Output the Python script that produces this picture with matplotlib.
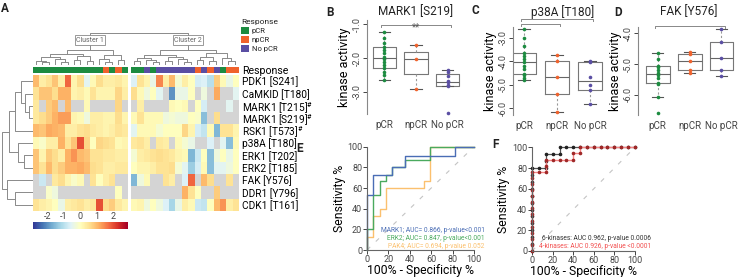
import matplotlib
matplotlib.use("Agg")
import matplotlib.pyplot as plt
import numpy as np
from matplotlib.colors import ListedColormap, Normalize
from matplotlib.cm import ScalarMappable
from matplotlib.patches import Patch

nan = np.nan

# ---------------- panel A data ----------------
kinases = ["PDK1 [S241]", "CaMKID [T180]", r"MARK1 [T215]$^{\#}$", r"MARK1 [S219]$^{\#}$",
           r"RSK1 [T573]$^{\#}$", "p38A [T180]", "ERK1 [T202]", "ERK2 [T185]",
           "FAK [Y576]", "DDR1 [Y796]", "CDK1 [T161]"]
response_names = ["pCR", "npCR", "No pCR"]
response_colors = ["#1c8b40", "#f0622c", "#5a4ea3"]

# response class per sample (0 pCR, 1 npCR, 2 No pCR)
resp_c1 = [0, 0, 0, 0, 0, 0, 0, 0, 0, 0, 0, 1, 0, 1, 0]
resp_c2 = [0, 0, 2, 0, 2, 2, 2, 2, 2, 2, 1, 2, 1, 2, 0, 1, 1]

heat_c1 = [
    [1.0, 0.3, 0.5, 0.9, 0.3, 1.8, 0.2, 0.6, -0.5, 0.1, 0.6, 0.3, 0.3, 0.4, 0.2],
    [0.5, 0.9, 0.9, 0.6, 1.1, 1.1, 0.2, 0.3, 0.1, 0.5, 0.2, 0.2, 0.2, 0.7, 0.3],
    [0.4, nan, 0.8, 1.0, nan, 1.0, nan, nan, 0.1, nan, nan, nan, nan, 0.7, nan],
    [0.4, 0.6, 0.8, 1.1, 1.3, 1.3, 0.2, 0.1, -0.3, 0.3, 0.3, 0.2, 0.2, 0.6, 0.2],
    [1.0, 0.9, 1.2, 1.1, 1.0, 0.3, 0.3, 0.5, 0.6, 0.4, 0.3, 0.2, 0.3, 0.5, 0.4],
    [0.1, -0.1, 0.3, 0.3, 1.1, 0.5, 0.9, 2.0, 0.7, 0.0, 0.7, 0.6, 0.5, 0.1, 0.2],
    [0.9, 0.2, 0.8, 0.6, 0.3, 1.1, 1.4, 1.0, 0.9, 0.5, 0.5, 0.4, 0.4, 0.3, 0.3],
    [0.9, 0.5, 1.0, 0.6, 0.8, 1.1, 1.1, 1.2, 1.0, 0.6, 0.5, 0.3, 0.3, 0.4, 0.4],
    [nan, -0.8, nan, 0.4, 0.6, 0.2, -0.1, 0.1, nan, 0.5, 0.0, 0.3, 0.5, nan, nan],
    [nan, nan, -0.1, -0.3, nan, nan, nan, nan, nan, nan, nan, nan, nan, 0.0, nan],
    [0.5, 0.3, 0.2, 0.0, -0.4, 0.3, 0.4, 0.5, 0.3, 0.4, 2.0, 0.6, 0.8, 0.4, 0.2],
]
heat_c2 = [
    [-0.6, 0.5, 0.2, -0.4, 1.5, 0.3, 1.0, -0.2, 0.3, 0.0, -0.7, -0.6, -1.0, 0.8, 0.1, -0.4, 0.0],
    [0.6, 0.1, -0.3, 0.0, -0.5, nan, -2.0, -0.4, -0.4, 0.0, nan, -0.3, nan, 1.2, nan, nan, -0.5],
    [nan, 0.3, nan, nan, nan, nan, 0.1, 0.0, 0.1, nan, 0.0, -0.7, nan, nan, nan, -0.5, nan],
    [0.1, 0.5, 0.1, 0.1, 0.1, -0.3, -0.2, -0.3, -0.3, 0.0, -0.1, -1.5, nan, 0.6, nan, nan, nan],
    [-0.5, 0.1, 0.1, 0.1, -0.2, 0.0, 0.0, 0.0, 0.7, 0.2, -0.7, -0.9, 0.1, -1.6, 0.5, 0.5, 0.2],
    [0.4, 0.5, 0.3, nan, 0.4, 0.3, nan, 0.1, -0.2, -0.4, nan, nan, -0.6, nan, -0.5, -1.5, 0.1],
    [-0.2, 0.3, 0.4, 0.5, 0.6, 0.5, 0.4, 0.2, 0.1, -1.6, -0.8, 0.0, -1.5, -0.3, 0.0, -0.4, 0.0],
    [0.0, 0.2, 0.2, 0.3, 0.5, 0.5, 0.6, -0.2, -0.5, -1.3, -0.7, 0.1, -1.5, -0.5, -0.5, -0.3, 0.0],
    [-1.6, -0.3, 0.1, nan, nan, 0.5, 0.3, nan, -0.6, 1.8, nan, 1.0, 0.6, nan, nan, 0.5, nan],
    [nan, nan, nan, nan, nan, nan, nan, nan, 1.1, 0.5, 0.0, nan, nan, 0.8, nan, nan, nan],
    [0.1, 0.2, -0.3, 0.0, -0.3, -0.6, -1.2, -0.4, 0.3, 0.1, -0.8, -0.9, 0.0, 1.0, 1.4, 0.3, 0.5],
]

# dendrograms: (height, left, right), leaves are sample / row indices
cluster1_tree = (15, (11, (8, (4, 0, (3, 1, 2)), (6, 3, (3, 4, 5))), (9, (5, 6, 7), (4, 8, 9))),
                 (10, (6, 10, (3, 11, 12)), (5, 13, 14)))
cluster2_tree = (15, (10, (7, (4, 15, 16), (5, 17, (3, 18, 19))), (8, (4, 20, 21), (6, 22, (3, 23, 24)))),
                 (12, (8, (5, 25, 26), (4, 27, 28)), (7, 29, (4, 30, 31))))
col_root_height = 32
row_tree = (31, (24, (18, (12, 0, (8, 1, (4, 2, 3))), 4), (15, 5, (9, 6, 7))),
            (26, 8, (18, 9, 10)))

# ---------------- panels B-D data ----------------
groups = ["pCR", "npCR", "No pCR"]
mark1_pcr = [-1.23, -1.42, -1.57, -1.67, -1.76, -1.86, -1.96, -2.04, -2.11, -2.21, -2.30, -2.40, -2.50, -2.65]
mark1_npcr = [-1.62, -2.03, -2.91]
mark1_nopcr = [-2.35, -2.42, -2.52, -2.68, -2.72, -2.80, -2.83, -3.62]
p38_pcr = [-2.63, -3.0, -3.35, -3.64, -3.78, -3.9, -4.01, -4.2, -4.35, -4.53, -4.6, -4.72, -4.82]
p38_npcr = [-3.72, -3.97, -4.67, -5.38, -6.18]
p38_nopcr = [-3.97, -4.02, -4.67, -5.0, -5.22, -5.81]
fak_pcr = [-4.65, -4.85, -5.05, -5.1, -5.2, -5.3, -5.35, -5.45, -5.6, -5.64, -6.08, -6.57]
fak_npcr = [-4.62, -4.66, -4.9, -5.19, -5.28]
fak_nopcr = [-3.88, -4.28, -4.82, -5.19, -5.39]

# ---------------- panels E, F data ----------------
mark1_fpr = [0, 0, 5.9, 5.9, 23.5, 23.5, 35.3, 35.3, 82.4, 82.4, 100]
mark1_tpr = [0, 53, 53, 73, 73, 80, 80, 91, 91, 100, 100]
erk2_fpr = [0, 0, 5.9, 5.9, 11.8, 11.8, 17.6, 17.6, 23.5, 23.5, 35.3, 35.3, 58.8, 58.8, 100]
erk2_tpr = [0, 20, 20, 53, 53, 67, 67, 73, 73, 80, 80, 87, 87, 100, 100]
pak4_fpr = [0, 0, 5.9, 5.9, 11.8, 11.8, 17.6, 17.6, 52.9, 52.9, 58.8, 58.8, 100]
pak4_tpr = [0, 13, 13, 33, 33, 40, 40, 60, 60, 67, 67, 100, 100]

six_fpr = [0, 0, 0, 0, 0, 0, 0, 0, 0, 0, 0, 0, 0, 6.7, 13.3, 13.3, 13.3, 20, 26.7, 26.7,
           33.3, 40, 46.7, 53.3, 60, 66.7, 73.3, 80, 86.7, 93.3, 100]
six_tpr = [0, 6.7, 13.3, 20, 26.7, 33.3, 40, 46.7, 53.3, 60, 66.7, 73.3, 80, 80, 80, 86.7, 93.3, 93.3, 93.3, 100,
           100, 100, 100, 100, 100, 100, 100, 100, 100, 100, 100]
four_fpr = [0, 0, 0, 0, 0, 0, 0, 0, 0, 0, 0, 0, 0, 0, 6.7, 13.3, 13.3, 13.3, 20, 26.7, 33.3, 40, 40,
            46.7, 46.7, 53.3, 60, 66.7, 73.3, 80, 86.7, 93.3, 100]
four_tpr = [0, 5.9, 11.8, 17.6, 23.5, 29.4, 35.3, 41.2, 47.1, 52.9, 58.8, 64.7, 70.6, 76.5, 76.5, 76.5,
            82.4, 88.2, 88.2, 88.2, 88.2, 88.2, 94.1, 94.1, 100, 100, 100, 100, 100, 100, 100, 100, 100]

plt.rcParams["font.family"] = ["Roboto", "DejaVu Sans"]
plt.rcParams["mathtext.fontset"] = "custom"
plt.rcParams["mathtext.rm"] = "Roboto"
plt.rcParams["axes.unicode_minus"] = False
plt.rcParams["text.color"] = "#222222"

W, H = 740, 277
fig = plt.figure(figsize=(W / 100, H / 100), dpi=100)


def px_axes(x0, y0, x1, y1):
    return fig.add_axes([x0 / W, 1 - y1 / H, (x1 - x0) / W, (y1 - y0) / H])


def draw_tree(ax, node, pos, top=True):
    if isinstance(node, int):
        return pos[node], 0
    h, a, b = node
    xa, ha = draw_tree(ax, a, pos, top)
    xb, hb = draw_tree(ax, b, pos, top)
    xs, ys = [xa, xa, xb, xb], [ha, h, h, hb]
    if top:
        ax.plot(xs, ys, color="#8a8a8a", lw=0.7)
    else:
        ax.plot(ys, xs, color="#8a8a8a", lw=0.7)
    return (xa + xb) / 2, h


# ---------------- A: heatmap ----------------
col_px = 6.3
gap = 0.5
n1, n2 = len(resp_c1), len(resp_c2)
x0 = 33
x1 = x0 + n1 * col_px
x2 = x1 + gap * col_px
x3 = x2 + n2 * col_px

cmap = plt.get_cmap("RdYlBu_r").copy()
cmap.set_bad("#d4d4d4")
vlim = 2.9
resp_cmap = ListedColormap(response_colors)

for data, resp, xa, xb, right in [(heat_c1, resp_c1, x0, x1, False), (heat_c2, resp_c2, x2, x3, True)]:
    ax_r = px_axes(xa, 67, xb, 73.5)
    ax_r.imshow([resp], cmap=resp_cmap, vmin=-0.5, vmax=2.5, aspect="auto", interpolation="nearest")
    ax_h = px_axes(xa, 75, xb, 211)
    ax_h.imshow(np.array(data), cmap=cmap, vmin=-vlim, vmax=vlim, aspect="auto", interpolation="nearest")
    for a in (ax_r, ax_h):
        for s in a.spines.values():
            s.set_visible(False)
        a.set_xticks([])
        a.set_yticks([])
    if right:
        ax_h.yaxis.tick_right()
        ax_h.set_yticks(range(len(kinases)))
        ax_h.set_yticklabels(kinases, fontsize=7.3)
        ax_h.tick_params(axis="y", length=0, pad=3)
        ax_r.yaxis.tick_right()
        ax_r.set_yticks([0])
        ax_r.set_yticklabels(["Response"], fontsize=7.6)
        ax_r.tick_params(axis="y", length=0, pad=3)

# column dendrogram
ax_cd = px_axes(x0, 30, x3, 65)
leaf_pos = [i + 0.5 for i in range(n1)] + [n1 + gap + j + 0.5 for j in range(n2)]
c1x, _ = draw_tree(ax_cd, cluster1_tree, leaf_pos)
c2x, _ = draw_tree(ax_cd, cluster2_tree, leaf_pos)
ax_cd.plot([c1x, c1x, c2x, c2x], [cluster1_tree[0], col_root_height, col_root_height, cluster2_tree[0]],
           color="#8a8a8a", lw=0.7)
for cx, lab in [(c1x, "Cluster 1"), (c2x, "Cluster 2")]:
    ax_cd.text(cx, 25, lab, ha="center", va="center", fontsize=5, color="#666",
               bbox=dict(boxstyle="square,pad=0.15", fc="white", ec="#888", lw=0.6))
ax_cd.set_xlim(0, n1 + gap + n2)
ax_cd.set_ylim(0, 35)
ax_cd.axis("off")

# row dendrogram
ax_rd = px_axes(0, 75, 33, 211)
draw_tree(ax_rd, row_tree, [i + 0.5 for i in range(len(kinases))], top=False)
ax_rd.set_ylim(len(kinases), 0)
ax_rd.set_xlim(33, 0)
ax_rd.axis("off")

# colorbar
cax = px_axes(x0, 222, x1, 229)
cb = fig.colorbar(ScalarMappable(norm=Normalize(-vlim, vlim), cmap=cmap), cax=cax, orientation="horizontal")
cb.set_ticks([-2, -1, 0, 1, 2])
cax.xaxis.set_ticks_position("top")
cb.outline.set_visible(False)
cax.tick_params(length=0, labelsize=6.5, pad=1, colors="#444")

fig.legend(handles=[Patch(fc=c, ec="none") for c in response_colors], labels=response_names,
           title="Response", loc="upper left", bbox_to_anchor=(241 / W, 1 - 19 / H), frameon=False,
           fontsize=5.5, title_fontsize=6, handlelength=1.0, handleheight=1.0, handletextpad=0.4,
           labelspacing=0.25, borderpad=0, borderaxespad=0, alignment="left")


# ---------------- B-D: boxplots ----------------
def tukey_stats(vals):
    v = np.sort(np.asarray(vals, float))
    n = len(v)
    half = (n + 1) // 2
    lo, hi = np.median(v[:half]), np.median(v[n - half:])
    iqr = hi - lo
    return dict(med=np.median(v), q1=lo, q3=hi,
                whislo=v[v >= lo - 1.5 * iqr].min(), whishi=v[v <= hi + 1.5 * iqr].max(), fliers=[])


def box_panel(box, xlim, ylim, yticks, title, data, brackets):
    ax = px_axes(*box)
    ax.bxp([tukey_stats(d) for d in data], positions=[1, 2, 3], widths=0.75, showfliers=False,
           capwidths=0.35, boxprops=dict(color="#777", lw=0.8), medianprops=dict(color="#666", lw=0.8),
           whiskerprops=dict(color="#999", lw=0.8, ls=(0, (2, 2))), capprops=dict(color="#555", lw=0.8))
    for p, d, c in zip([1, 2, 3], data, response_colors):
        ax.plot([p] * len(d), d, "o", color=c, ms=2.6, mew=0, zorder=3, clip_on=False)
    ax.set_xlim(*xlim)
    ax.set_ylim(*ylim)
    for s in ["top", "right", "bottom"]:
        ax.spines[s].set_visible(False)
    ax.spines["left"].set_color("#888")
    ax.spines["left"].set_linewidth(0.8)
    ax.set_xticks([1, 2, 3])
    ax.set_xticklabels(groups)
    ax.set_yticks(yticks)
    ax.set_yticklabels([f"{t:.1f}" for t in yticks], rotation=90, va="center")
    ax.tick_params(axis="x", length=0, labelsize=7, pad=4, colors="#444")
    ax.tick_params(axis="y", length=3, width=0.7, labelsize=6.5, pad=1, colors="#444")
    ax.set_ylabel("kinase activity", fontsize=9, labelpad=1)
    pos = ax.get_position()
    fig.text(pos.x0 + pos.width / 2, 1 - 12 / H, title, ha="center", va="center", fontsize=8.5)
    d = 0.025 * (ylim[1] - ylim[0])
    for i, j, y, lab in brackets:
        ax.plot([i - 0.1, i - 0.1, j + 0.1, j + 0.1], [y - d, y, y, y - d], color="#888", lw=0.7, clip_on=False)
        ax.annotate(lab, xy=((i + j) / 2, y), xytext=(0, -3.5), textcoords="offset points",
                    ha="center", va="baseline", fontsize=7, color="#555")
    return ax


box_panel((367, 20, 465, 114), (0.45, 3.55), (-3.65, -0.88), [-1.0, -2.0, -3.0], "MARK1 [S219]",
          [mark1_pcr, mark1_npcr, mark1_nopcr], [(1, 3, -1.03, "**")])
box_panel((513, 27, 612, 115), (0.67, 3.67), (-6.3, -2.53), [-3.0, -4.0, -5.0, -6.0], "p38A [T180]",
          [p38_pcr, p38_npcr, p38_nopcr], [(1, 3, -2.19, "*"), (1, 2, -2.40, "*")])
box_panel((638, 27, 739, 115), (0.38, 3.55), (-6.65, -3.8), [-4.0, -5.0, -6.0], "FAK [Y576]",
          [fak_pcr, fak_npcr, fak_nopcr], [(1, 3, -3.77, "*")])


# ---------------- E, F: ROC ----------------
def roc_axes(box):
    ax = px_axes(*box)
    ax.set_xlim(0, 100)
    ax.set_ylim(0, 100)
    ax.set_xticks(range(0, 101, 20))
    ax.set_yticks(range(0, 101, 20))
    for s in ["top", "right"]:
        ax.spines[s].set_visible(False)
    for s in ["left", "bottom"]:
        ax.spines[s].set_color("#666")
        ax.spines[s].set_linewidth(0.8)
    ax.tick_params(length=3, width=0.7, labelsize=6.5, pad=0.5, colors="#444")
    ax.set_xlabel("100% - Specificity %", fontsize=8.8, labelpad=0)
    ax.set_ylabel("Sensitivity %", fontsize=8.8, labelpad=1)
    ax.plot([0, 100], [0, 100], color="#c4c4c4", lw=0.8, ls=(0, (4, 7)))
    return ax


axE = roc_axes((367, 146.7, 474, 250))
for fpr, tpr, c in [(pak4_fpr, pak4_tpr, "#fbc06e"), (erk2_fpr, erk2_tpr, "#4aaa5e"),
                    (mark1_fpr, mark1_tpr, "#4a6db5")]:
    axE.plot(fpr, tpr, color=c, lw=1, clip_on=False)
for y, txt, c in [(18.5, "MARK1; AUC= 0.866, p-value<0.001", "#4a6db5"),
                  (11, "ERK2; AUC= 0.847, p-value<0.001", "#4aaa5e"),
                  (3.5, "PAK4; AUC= 0.694, p-value 0.052", "#fbc06e")]:
    axE.text(110, y, txt, ha="right", va="center", fontsize=4.8, color=c)

axF = roc_axes((532, 147.3, 635, 251))
axF.plot(six_fpr, six_tpr, color="#555", lw=0.9, marker="o", ms=1.6, mfc="#222", mec="#222", clip_on=False)
axF.plot(four_fpr, four_tpr, color="#f58484", lw=1, marker="o", ms=1.6, mfc="#a02828", mec="#a02828",
         clip_on=False)
axF.text(116, 11.9, "6-kinases: AUC 0.962, p-value 0.0006", ha="right", va="center", fontsize=4.8, color="#333")
axF.text(116, 4.8, "4-kinases: AUC 0.926, p-value <0.0001", ha="right", va="center", fontsize=4.8,
         color="#f25050")

for x, y, lab in [(5, 9, "A"), (330, 13, "B"), (475, 11, "C"), (618, 13, "D"), (300, 149, "E"), (495, 145, "F")]:
    fig.text(x / W, 1 - y / H, lab, fontsize=8.5, fontweight="bold", ha="center", va="center")

fig.savefig("out.png", dpi=100)
